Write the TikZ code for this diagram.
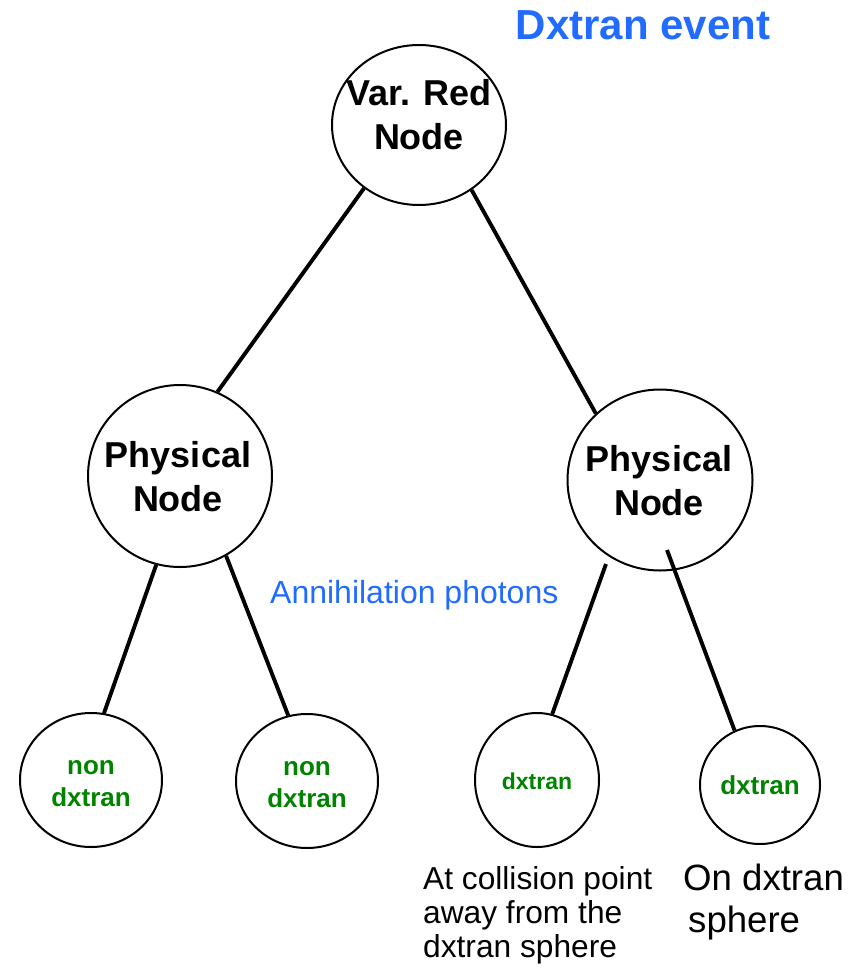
\documentclass[tikz,border=0pt]{standalone}
\usepackage{fontspec}
\setmainfont{Liberation Sans}
\usetikzlibrary{shapes.geometric}
\definecolor{titleblue}{RGB}{33,108,255}
\definecolor{leafgreen}{RGB}{0,132,0}
\tikzset{
  bubble/.style={draw=black, line width=2pt, ellipse, inner sep=0pt, fill=white},
  branch/.style={draw=black, line width=3.9pt},
  bigbold/.style={font=\fontsize{36}{44}\selectfont\bfseries, align=center, inner sep=0pt},
  leafbold/.style={font=\fontsize{26}{32}\selectfont\bfseries, text=leafgreen, align=center, inner sep=0pt},
  note/.style={font=\fontsize{31.7}{34}\selectfont, align=left, inner sep=0pt},
  bignote/.style={font=\fontsize{36.6}{42}\selectfont, inner sep=0pt, anchor=base west},
}
\begin{document}
\begin{tikzpicture}[x=1pt, y=-1pt]
  \path[use as bounding box] (0,0) rectangle (857,971);

  % tree nodes
  \node[bubble, minimum width=174pt, minimum height=160pt] (root) at (419,125) {};
  \node[bubble, minimum width=184pt, minimum height=182pt] (physL) at (180,476) {};
  \node[bubble, minimum width=185pt, minimum height=181pt] (physR) at (660,480) {};
  \node[bubble, minimum width=142pt, minimum height=134pt] (leafA) at (91,780) {};
  \node[bubble, minimum width=142pt, minimum height=134pt] (leafB) at (307,781) {};
  \node[bubble, minimum width=124pt, minimum height=134pt] (leafC) at (537,780) {};
  \node[bubble, minimum width=120pt, minimum height=118pt] (leafD) at (760,785) {};

  % labels inside the nodes
  \node[bigbold] (rootText) at (419,115) {Var. Red\\Node};
  \node[bigbold] (physLText) at (178,477) {Physical\\Node};
  \node[bigbold] (physRText) at (659,481) {Physical\\Node};
  \node[leafbold] (leafAText) at (91,784) {non\\dxtran};
  \node[leafbold] (leafBText) at (307,785) {non\\dxtran};
  \node[leafbold, font=\fontsize{23}{28}\selectfont\bfseries] (leafCText) at (537,781) {dxtran};
  \node[leafbold] (leafDText) at (760,785) {dxtran};

  % free ends of the two branches below the right physical node
  \coordinate (physRLeft) at (606,564);
  \coordinate (physRRight) at (667,550);

  % branches
  \draw[branch] (root.229) -- (physL.66);
  \draw[branch] (root.309.5) -- (physR.134);
  \draw[branch] (physL.255.4) -- (leafA.79.8);
  \draw[branch] (physL.300) -- (leafB.106.9);
  \draw[branch] (physRLeft) -- (leafC.77.8);
  \draw[branch] (physRRight) -- (leafD.115.3);

  % annotations
  \node[font=\fontsize{42}{48}\selectfont\bfseries, text=titleblue, inner sep=0pt] (title) at (643,25) {Dxtran event};
  \node[font=\fontsize{32}{36}\selectfont, text=titleblue, inner sep=0pt, anchor=base west] (photons) at (270,603) {Annihilation photons};
  \node[note, anchor=north west] (collision) at (423,866) {At collision point\\away from the\\dxtran sphere};
  \node[bignote] (onSphere1) at (683,890) {On dxtran};
  \node[bignote] (onSphere2) at (688,932) {sphere};
\end{tikzpicture}
\end{document}
